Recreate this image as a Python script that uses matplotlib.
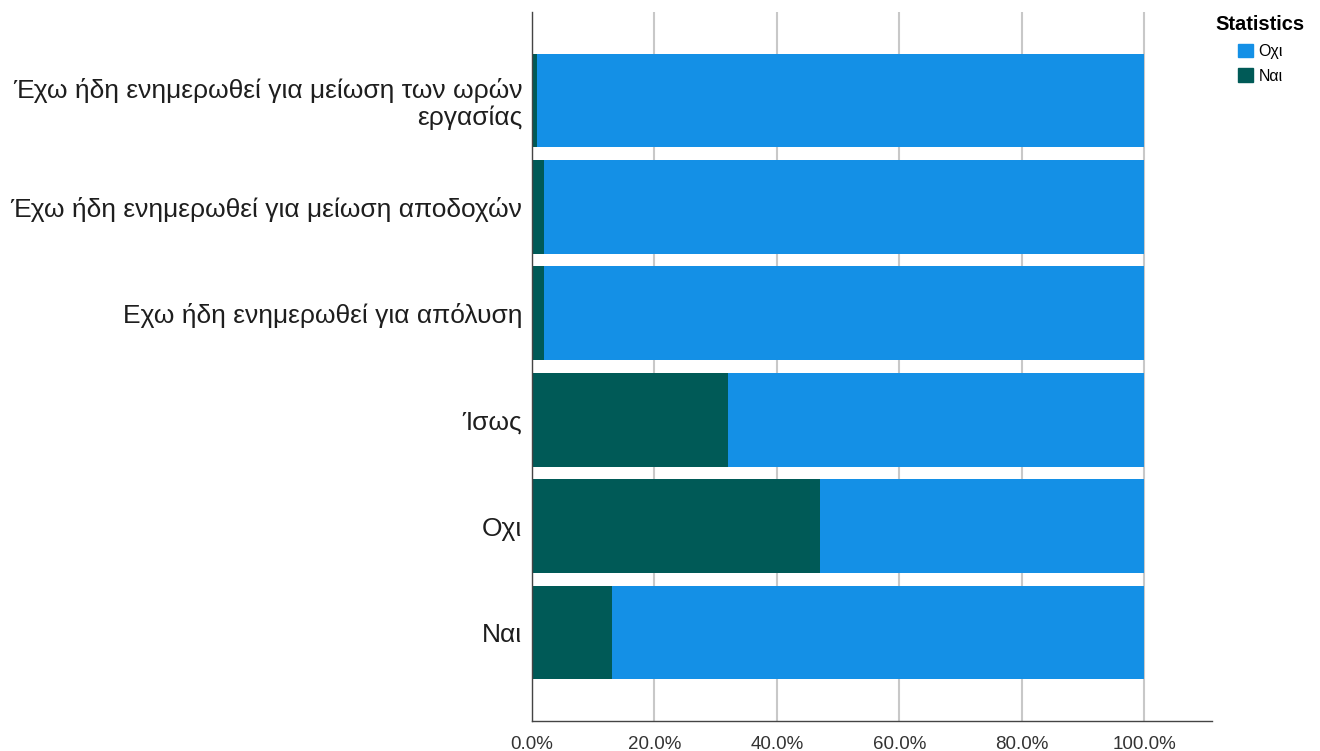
import matplotlib.pyplot as plt
from matplotlib.ticker import FuncFormatter
from matplotlib.patches import Patch

plt.rcParams['font.family'] = ['Liberation Sans', 'DejaVu Sans']

# categories, top to bottom
categories = [
    "Έχω ήδη ενημερωθεί για μείωση των ωρών\nεργασίας",
    "Έχω ήδη ενημερωθεί για μείωση αποδοχών",
    "Εχω ήδη ενημερωθεί για απόλυση",
    "Ίσως",
    "Οχι",
    "Ναι",
]
# percent "Ναι" per category
nai_pct = [0.9, 1.9, 1.9, 32.0, 47.1, 13.1]
oxi_pct = [100 - v for v in nai_pct]

col_oxi = "#1490e6"
col_nai = "#005a57"

fig = plt.figure(figsize=(13.2, 7.51), dpi=100)
ax = fig.add_axes([0.403, 0.040, 0.515, 0.944])

pos = list(range(len(categories)))
ax.barh(pos, nai_pct, height=0.88, color=col_nai, zorder=2)
ax.barh(pos, oxi_pct, left=nai_pct, height=0.88, color=col_oxi, zorder=2)

ax.set_ylim(len(categories) - 1 + 0.83, -0.83)
ax.set_xlim(0, 111)
ax.set_yticks(pos)
ax.set_yticklabels(categories, fontsize=19, color="#1e1e1e", linespacing=1.12)
ax.set_xticks([0, 20, 40, 60, 80, 100])
ax.xaxis.set_major_formatter(FuncFormatter(lambda v, p: f"{v:.1f}%"))
ax.tick_params(axis="x", length=0, labelsize=13.5, labelcolor="#333333", pad=11)
ax.tick_params(axis="y", length=0, pad=7)
ax.grid(axis="x", color="#c8c8c8", linewidth=1.5, zorder=0)
ax.set_axisbelow(True)

for s in ["top", "right"]:
    ax.spines[s].set_visible(False)
for s in ["left", "bottom"]:
    ax.spines[s].set_color("#444444")
    ax.spines[s].set_linewidth(1.0)

handles = [Patch(color=col_oxi, label="Οχι"), Patch(color=col_nai, label="Ναι")]
leg = fig.legend(handles=handles, title="Statistics", loc="upper right",
                 bbox_to_anchor=(0.997, 0.995), frameon=False, fontsize=11.5,
                 handlelength=0.95, handleheight=0.95, handletextpad=0.35,
                 labelspacing=0.6, borderpad=0.2)
leg.get_title().set_fontweight("bold")
leg.get_title().set_fontsize(14.5)
leg._legend_box.align = "center"

fig.savefig("out.png", dpi=100)
